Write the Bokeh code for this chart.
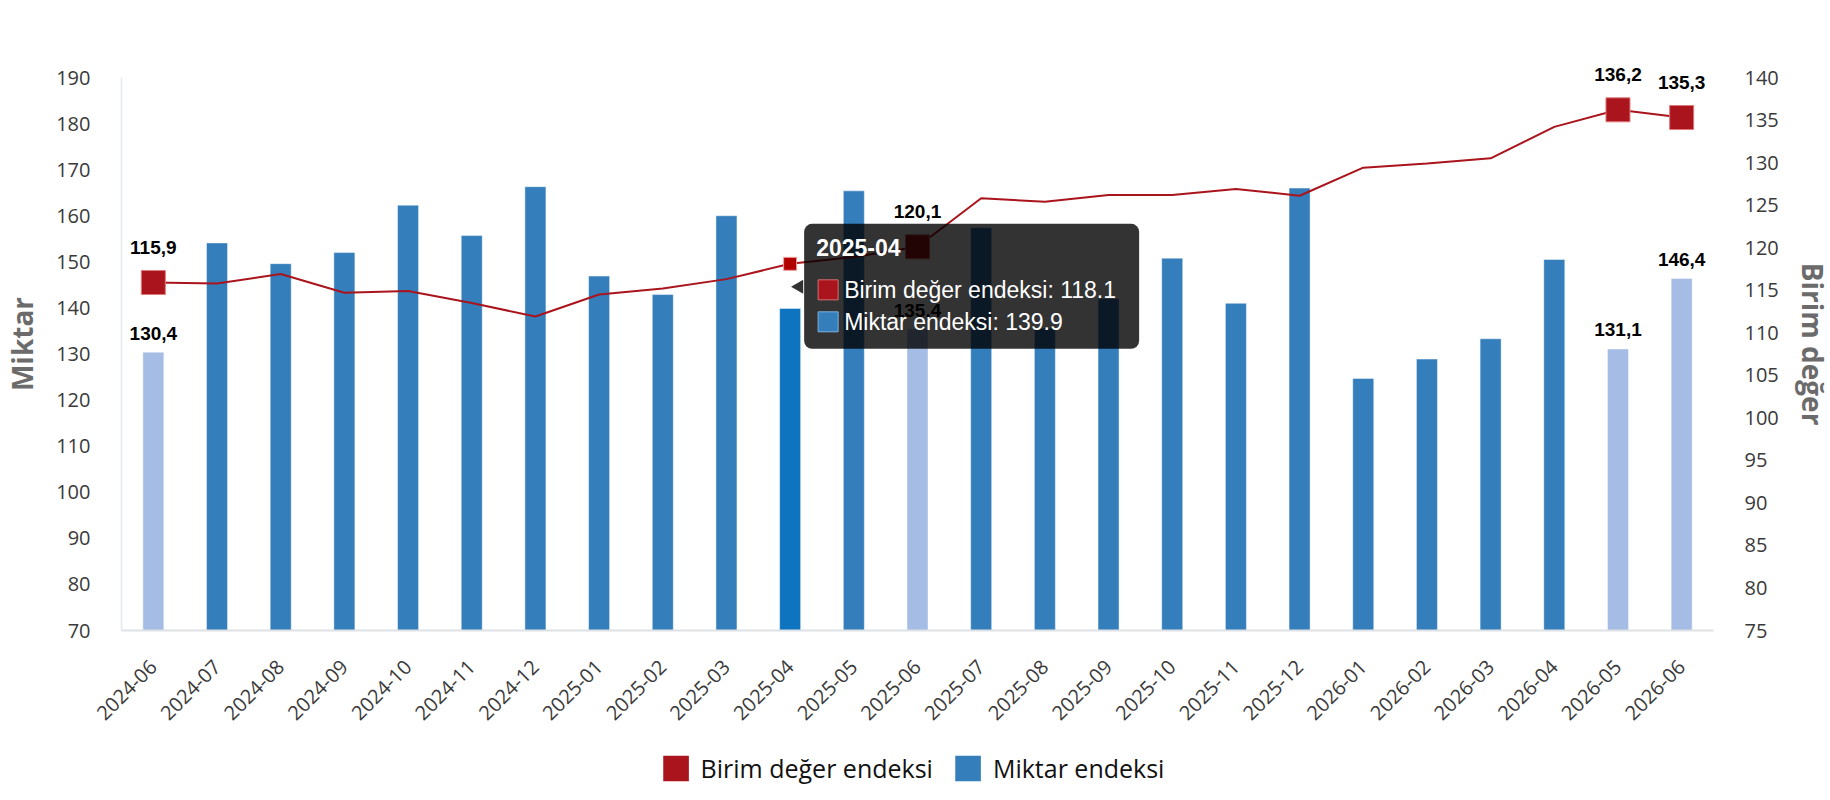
import math
from bokeh.plotting import figure
from bokeh.layouts import column
from bokeh.models import (Range1d, LinearAxis, FixedTicker, ColumnDataSource,
                          Legend, LegendItem, BoxAnnotation)
from bokeh.core.properties import value
from bokeh.embed import file_html
from bokeh.resources import INLINE

# ---------------- data ----------------
months = ["2024-06", "2024-07", "2024-08", "2024-09", "2024-10", "2024-11", "2024-12",
          "2025-01", "2025-02", "2025-03", "2025-04", "2025-05", "2025-06", "2025-07",
          "2025-08", "2025-09", "2025-10", "2025-11", "2025-12", "2026-01", "2026-02",
          "2026-03", "2026-04", "2026-05", "2026-06"]
miktar = [130.4, 154.1, 149.6, 152.0, 162.3, 155.7, 166.3, 146.9, 142.9, 160.0, 139.9,
          165.4, 135.4, 157.4, 135.6, 142.0, 150.8, 141.0, 166.0, 124.7, 128.9, 133.3,
          150.5, 131.1, 146.4]
birim = [115.9, 115.8, 116.9, 114.7, 114.9, 113.5, 111.9, 114.5, 115.2, 116.3, 118.1,
         118.9, 120.1, 125.8, 125.4, 126.2, 126.2, 126.9, 126.1, 129.4, 129.9, 130.5,
         134.2, 136.2, 135.3]
labeled_months = ["2024-06", "2025-06", "2026-05", "2026-06"]
hover_month = "2025-04"
left_ticks = list(range(70, 191, 10))
right_ticks = list(range(75, 141, 5))
series_names = ["Birim değer endeksi", "Miktar endeksi"]

# ---------------- styles ----------------
RED = "#aa141c"
BLUE = "#337ebb"
BLUE_LIGHT = "#a5bde4"
BLUE_HOVER = "#0e74c0"
TICK_FONT = "Open Sans"
LABEL_FONT = "Liberation Sans"

AXIS_H = 553          # pixel height between lowest and highest tick
TOP_PAD = 20          # extra frame room above the top tick (for data labels)
FRAME_W = 1592
FRAME_H = AXIS_H + TOP_PAD
B_LEFT, B_RIGHT, B_TOP, B_BOTTOM = 120, 112, 57, 108
TOTAL_W = B_LEFT + FRAME_W + B_RIGHT
x_lo, x_hi = -0.5, len(months) - 0.5
yl_lo, yl_top = left_ticks[0], left_ticks[-1]
yr_lo, yr_top = right_ticks[0], right_ticks[-1]
PXX = FRAME_W / (x_hi - x_lo)
PXL = AXIS_H / (yl_top - yl_lo)
PXR = AXIS_H / (yr_top - yr_lo)
yl_hi = yl_top + TOP_PAD / PXL
yr_hi = yr_top + TOP_PAD / PXR

p = figure(frame_width=FRAME_W, frame_height=FRAME_H,
           x_range=Range1d(x_lo, x_hi), y_range=Range1d(yl_lo, yl_hi),
           output_backend="svg", toolbar_location=None,
           min_border_left=B_LEFT, min_border_right=B_RIGHT, min_border_top=B_TOP,
           min_border_bottom=B_BOTTOM, outline_line_color=None,
           background_fill_color="white", border_fill_color="white")
p.extra_y_ranges = {"birim": Range1d(yr_lo, yr_hi)}
p.grid.visible = False

# x axis
xa = p.xaxis[0]
xa.ticker = FixedTicker(ticks=list(range(len(months))))
xa.major_label_overrides = {i: m for i, m in enumerate(months)}
xa.major_label_orientation = math.pi / 4
xa.axis_line_color = "#dde1e6"
xa.axis_line_width = 2
xa.major_tick_line_color = None
xa.minor_tick_line_color = None
xa.major_label_text_font = TICK_FONT
xa.major_label_text_font_size = "20px"
xa.major_label_text_color = "#3a3a3a"
xa.major_label_standoff = 27

# left axis
ya = p.yaxis[0]
ya.ticker = FixedTicker(ticks=left_ticks)
ya.bounds = (yl_lo, yl_top)
ya.axis_line_color = "#e4e8ee"
ya.axis_line_width = 1.5
ya.major_tick_line_color = None
ya.minor_tick_line_color = None
ya.major_label_standoff = 25
ya.major_label_text_font = TICK_FONT
ya.major_label_text_font_size = "20px"
ya.major_label_text_color = "#3a3a3a"
ya.axis_label = "Miktar"
ya.axis_label_text_font = TICK_FONT
ya.axis_label_text_font_style = "bold"
ya.axis_label_text_font_size = "28px"
ya.axis_label_text_color = "#6b6b6b"
ya.axis_label_standoff = 12

# right axis
ra = LinearAxis(y_range_name="birim", ticker=FixedTicker(ticks=right_ticks),
                bounds=(yr_lo, yr_top))
ra.axis_line_color = None
ra.major_tick_line_color = None
ra.minor_tick_line_color = None
ra.major_label_standoff = 25
ra.major_label_text_font = TICK_FONT
ra.major_label_text_font_size = "20px"
ra.major_label_text_color = "#3a3a3a"
ra.axis_label = "Birim değer"
ra.axis_label_text_font = TICK_FONT
ra.axis_label_text_font_style = "bold"
ra.axis_label_text_font_size = "28px"
ra.axis_label_text_color = "#6b6b6b"
ra.axis_label_standoff = 12
p.add_layout(ra, "right")

# ---------------- bars ----------------
xs = list(range(len(months)))
colors = []
for m in months:
    if m == hover_month:
        colors.append(BLUE_HOVER)
    elif m in labeled_months:
        colors.append(BLUE_LIGHT)
    else:
        colors.append(BLUE)
bar_src = ColumnDataSource(dict(x=xs, top=miktar, color=colors))
p.vbar(x="x", top="top", bottom=yl_lo, width=0.33, fill_color="color",
       line_color="white", line_alpha=0.45, line_width=1, source=bar_src)

# ---------------- line ----------------
p.line(xs, birim, y_range_name="birim", line_color=RED, line_width=2)
lab_idx = [months.index(m) for m in labeled_months]
p.scatter([xs[i] for i in lab_idx], [birim[i] for i in lab_idx], y_range_name="birim",
          marker="square", size=24, fill_color=RED, line_color="#e07a7a", line_width=1)
hi = months.index(hover_month)
p.scatter([xs[hi]], [birim[hi]], y_range_name="birim", marker="square", size=13,
          fill_color="#b00000", line_color="#f0a0a0", line_width=1)

# ---------------- data labels ----------------
def fmt(v):
    return f"{v:.1f}".replace(".", ",")

p.text([xs[i] for i in lab_idx], [miktar[i] + 19 / PXL for i in lab_idx],
       text=[fmt(miktar[i]) for i in lab_idx], text_align="center",
       text_baseline="middle", text_font=value(LABEL_FONT), text_font_style="bold",
       text_font_size="19px", text_color="#000000")
p.text([xs[i] for i in lab_idx], [birim[i] + 35 / PXR for i in lab_idx],
       text=[fmt(birim[i]) for i in lab_idx], text_align="center",
       text_baseline="middle", text_font=value(LABEL_FONT), text_font_style="bold",
       text_font_size="19px", text_color="#000000", y_range_name="birim")

# ---------------- tooltip (hover state at 2025-04) ----------------
ax0, ay0 = xs[hi], birim[hi]
def tx(dx):
    return ax0 + dx / PXX
def ty(dy):
    return ay0 - dy / PXR

box = BoxAnnotation(left=tx(14), right=tx(349), top=ty(-40), bottom=ty(85),
                    y_range_name="birim", fill_color="black", fill_alpha=0.8,
                    line_color=None, border_radius=8, level="annotation")
p.add_layout(box)
p.scatter([tx(9)], [ty(23)], y_range_name="birim", marker="triangle", angle=math.pi / 2,
          size=14, fill_color="#333333", line_color=None, level="overlay")
p.text([tx(26)], [ty(-16)], text=[hover_month], text_align="left", text_baseline="middle",
       text_font=value(LABEL_FONT), text_font_style="bold", text_font_size="23px",
       text_color="white", y_range_name="birim", level="overlay")
p.scatter([tx(38), tx(38)], [ty(26), ty(58)], y_range_name="birim", marker="square",
          size=20, fill_color=[RED, BLUE], line_color=["#d47070", "#7fb0dc"],
          line_width=1, level="overlay")
p.text([tx(54), tx(54)], [ty(26), ty(58)],
       text=[f"{series_names[0]}: {birim[hi]:.1f}", f"{series_names[1]}: {miktar[hi]:.1f}"],
       text_align="left", text_baseline="middle", text_font=value(LABEL_FONT),
       text_font_size="23px", text_color="white", y_range_name="birim", level="overlay")

# ---------------- legend (own strip below the chart) ----------------
lf = figure(frame_width=TOTAL_W, frame_height=60, min_border=0,
            x_range=Range1d(0, 1), y_range=Range1d(0, 1),
            x_axis_location=None, y_axis_location=None,
            output_backend="svg", toolbar_location=None, outline_line_color=None,
            background_fill_color="white", border_fill_color="white")
lf.grid.visible = False
# legend-only renderers: their bar lies far outside the strip's ranges, so only
# the legend swatch is visible
leg_red = lf.vbar(x=[-50], top=[-50], bottom=[-51], width=0.1,
                  fill_color=RED, line_color=None)
leg_blue = lf.vbar(x=[-50], top=[-50], bottom=[-51], width=0.1,
                   fill_color=BLUE, line_color=None)
legend = Legend(items=[LegendItem(label=series_names[0], renderers=[leg_red]),
                       LegendItem(label=series_names[1], renderers=[leg_blue])],
                orientation="horizontal", location="center",
                glyph_width=32, glyph_height=32, label_standoff=9, spacing=19,
                label_text_font=TICK_FONT, label_text_font_size="25px",
                label_text_color="#111111", label_height=32,
                border_line_color=None, background_fill_alpha=0,
                padding=0, margin=0)
lf.add_layout(legend, "center")

page = column(p, lf, spacing=0)
open("out.html", "w").write(file_html(page, INLINE))
